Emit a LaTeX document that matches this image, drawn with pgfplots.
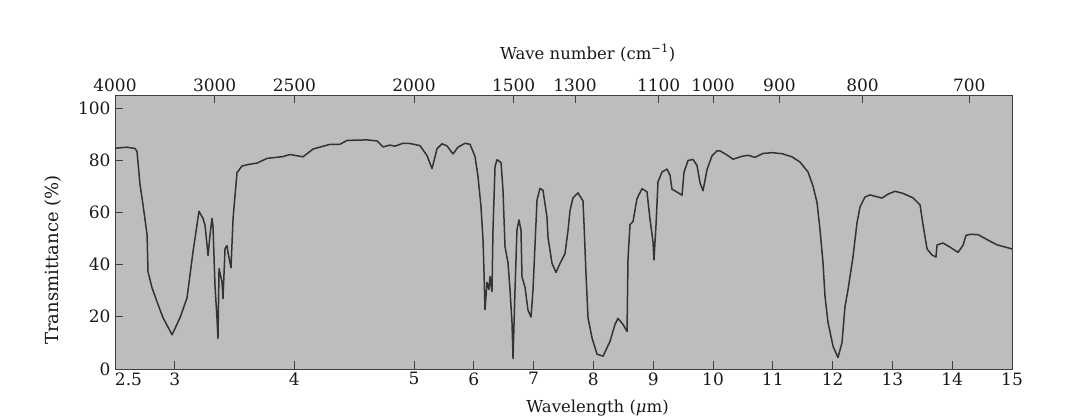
\documentclass[border=0pt]{standalone}
\usepackage{fontspec}
\setmainfont{DejaVu Serif}
\usepackage{pgfplots}
\pgfplotsset{compat=1.18}

% wavelength axis: 2.5-5 um at double scale, 5-15 um at single scale
\pgfplotsset{
  irx/.style={
    x coord trafo/.code={\pgfmathparse{##1<5 ? 2*##1-10 : ##1-5}},
    xmin=2.5, xmax=15, ymin=0, ymax=105,
    at={(0,0)}, anchor=south west,
    scale only axis, width=897pt, height=274pt,
    axis line style={black!75, line width=0.8pt},
    tick style={black!75, line width=0.8pt},
    major tick length=8pt, tick align=inside,
    ticklabel style={font=\fontsize{17}{19}\selectfont, text=black!90},
    label style={font=\fontsize{16.5}{18}\selectfont, text=black!90},
    /pgf/number format/assume math mode=true,
  }
}

\begin{document}
\begin{tikzpicture}
\useasboundingbox (-115pt,-48pt) rectangle (958pt,369pt);

\begin{axis}[
  irx,
  axis background/.style={fill=black!26},
  xtick={2.5,3,4,5,6,7,8,9,10,11,12,13,14,15},
  xticklabels={\makebox[0pt][l]{2.5},3,4,5,6,7,8,9,10,11,12,13,14,15},
  xtick pos=lower, ytick pos=left,
  ytick={0,20,40,60,80,100},
  yticklabel style={xshift=-1pt},
  xlabel={Wavelength (\textit{μ}m)},
  ylabel={Transmittance (\%)},
  xlabel style={at={(axis description cs:0.538,-0.142)}, anchor=center},
  ylabel style={at={(axis description cs:-0.069,0.398)}, anchor=center,
    font=\fontsize{18}{20}\selectfont},
]
\addplot[black!80, line width=1.5pt, line join=round] table {
2.500 84.6
2.600 85.0
2.667 84.5
2.684 83.4
2.709 70.7
2.734 63.0
2.768 51.5
2.776 37.3
2.809 31.2
2.851 25.8
2.901 19.7
2.977 13.1
3.043 19.6
3.102 27.2
3.152 44.8
3.202 60.4
3.236 57.7
3.253 55.0
3.278 43.5
3.294 51.2
3.311 57.7
3.319 55.0
3.336 32.0
3.353 19.3
3.361 11.7
3.370 38.5
3.395 33.1
3.403 27.0
3.420 46.1
3.436 47.3
3.445 44.6
3.470 38.8
3.487 57.6
3.520 75.2
3.562 77.8
3.629 78.5
3.687 78.9
3.771 80.7
3.905 81.4
3.963 82.2
4.072 81.3
4.156 84.3
4.298 86.1
4.381 86.1
4.440 87.6
4.607 87.8
4.691 87.4
4.741 85.1
4.799 85.8
4.841 85.4
4.908 86.5
4.967 86.4
5.100 85.6
5.217 81.8
5.301 76.8
5.385 84.4
5.468 86.3
5.552 85.5
5.652 82.4
5.736 85.0
5.853 86.5
5.936 86.1
6.020 81.5
6.070 73.8
6.120 62.3
6.154 49.7
6.171 37.0
6.187 22.8
6.221 33.2
6.254 30.5
6.271 35.4
6.304 29.7
6.321 53.4
6.355 77.6
6.388 80.2
6.455 79.1
6.488 68.7
6.522 46.8
6.572 40.7
6.605 30.4
6.639 17.7
6.656 4.0
6.689 30.3
6.722 53.3
6.756 57.1
6.789 53.3
6.806 35.3
6.856 31.4
6.906 22.6
6.957 19.9
6.990 30.3
7.057 64.7
7.107 69.2
7.157 68.5
7.224 58.1
7.241 50.4
7.308 40.5
7.375 37.0
7.441 40.4
7.525 44.2
7.575 53.0
7.609 60.7
7.659 65.6
7.742 67.5
7.826 64.4
7.843 55.6
7.876 36.5
7.910 19.6
7.977 11.9
8.060 5.7
8.161 4.9
8.278 10.6
8.361 17.1
8.411 19.4
8.495 17.1
8.562 14.4
8.579 42.4
8.612 55.3
8.662 56.5
8.729 65.3
8.813 69.1
8.896 67.9
8.946 57.5
8.997 48.7
9.013 41.8
9.047 55.2
9.080 71.7
9.147 75.5
9.231 76.6
9.281 74.3
9.314 68.9
9.398 67.8
9.482 66.6
9.515 75.4
9.582 79.9
9.666 80.3
9.732 78.0
9.783 71.4
9.833 68.3
9.900 76.4
9.983 81.7
10.067 83.6
10.117 83.6
10.234 82.0
10.334 80.4
10.485 81.5
10.585 81.9
10.702 81.1
10.836 82.6
10.987 82.9
11.154 82.5
11.321 81.3
11.455 79.3
11.589 75.5
11.672 70.1
11.739 63.9
11.789 53.5
11.839 40.9
11.873 27.8
11.923 17.9
12.007 8.7
12.090 4.4
12.157 10.1
12.207 23.9
12.258 30.4
12.341 43.0
12.408 56.0
12.458 62.1
12.542 65.9
12.625 66.7
12.826 65.5
12.926 67.0
13.043 68.1
13.177 67.3
13.344 65.6
13.462 62.9
13.512 55.3
13.579 46.0
13.662 43.7
13.729 42.9
13.746 47.5
13.796 47.9
13.846 48.3
13.963 46.7
14.097 44.7
14.181 47.4
14.231 51.2
14.298 51.6
14.431 51.5
14.582 49.6
14.749 47.6
15.000 46.0
};
\end{axis}

% wave number scale on top (positions are 10000/wavenumber in um)
\begin{axis}[
  irx,
  axis x line*=top, axis y line=none,
  xtick={2.5,3.3333,4,5,6.6667,7.6923,9.0909,10,11.1111,12.5,14.2857},
  xticklabels={4000,3000,2500,2000,1500,1300,1100,1000,900,800,700},
  xlabel={Wave number (cm\textsuperscript{−1})},
  xlabel style={at={(axis description cs:0.527,1.153)}, anchor=center},
]
\end{axis}
\end{tikzpicture}
\end{document}
